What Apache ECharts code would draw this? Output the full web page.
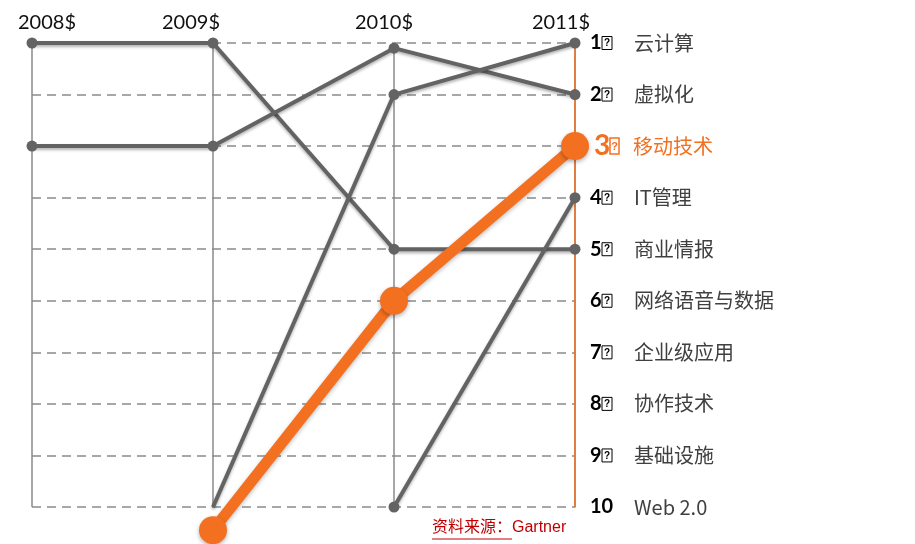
<!DOCTYPE html>
<html>
<head>
<meta charset="utf-8">
<script src="https://cdn.jsdelivr.net/npm/echarts@6/dist/echarts.min.js"></script>
<style>
    html, body { margin: 0; padding: 0; background: #fff; }
    #main { width: 915px; height: 544px; }
</style>
</head>
<body>
<div id="main"></div>
<script>
    // 年份（顶部）
    var years = ['2008$', '2009$', '2010$', '2011$'];
    // 2011 排名 1-10 对应的技术
    var rankNames = ['云计算', '虚拟化', '移动技术', 'IT管理', '商业情报', '网络语音与数据', '企业级应用', '协作技术', '基础设施', 'Web 2.0'];
    // 各技术历年排名（null = 未上榜）
    var cloudRank = [null, 10, 2, 1];
    var virtualRank = [3, 3, 1.1, 2];
    var mobileRank = [null, 10.45, 6, 3];
    var itMgmtRank = [null, null, 10, 4];
    var biRank = [1, 1, 5, 5];

    var gray = '#636363',
        orange = '#F37021';

    var chart = echarts.init(document.getElementById('main'));

    // 年份标签左右微调（px），与原图位置对齐
    var yearShift = [15, -22, -10, -14];

    function grayLine(name, data, hideFirst) {
        var seen = false;
        var items = data.map(function(v) {
            if (v == null) return null;
            if (hideFirst && !seen) {
                seen = true;
                return { value: v, symbol: 'none' };
            }
            seen = true;
            return v;
        });
        return {
            name: name,
            type: 'line',
            data: items,
            symbol: 'circle',
            symbolSize: 11,
            clip: false,
            z: 3,
            itemStyle: { color: gray },
            lineStyle: {
                color: gray, width: 4,
                shadowColor: 'rgba(0,0,0,0.3)', shadowBlur: 3, shadowOffsetY: 2
            }
        };
    }

    var option = {
        animation: false,
        grid: { left: 27, right: 340, top: 43, bottom: 37 },
        xAxis: {
            type: 'category',
            position: 'top',
            data: years,
            boundaryGap: false,
            axisLine: { show: false },
            axisTick: { show: false },
            axisLabel: {
                margin: 10,
                formatter: function(v, i) {
                    var s = yearShift[i];
                    if (s > 0) return '{sp|}{y|' + v + '}';
                    return '{y|' + v + '}{sp' + i + '|}';
                },
                rich: {
                    y: { color: '#111', fontSize: 20, fontFamily: 'Lato' },
                    sp: { width: 30 },
                    sp1: { width: 44 },
                    sp2: { width: 20 },
                    sp3: { width: 28 }
                }
            },
            splitLine: { show: true, lineStyle: { color: '#8a8a8a', width: 1.5 } }
        },
        yAxis: {
            type: 'value',
            position: 'right',
            inverse: true,
            min: 1,
            max: 10,
            interval: 1,
            axisLine: { show: true, lineStyle: { color: orange, width: 1.5 } },
            axisTick: { show: false },
            splitLine: { show: true, lineStyle: { color: '#8a8a8a', width: 1.5, type: [9, 6] } },
            axisLabel: {
                margin: 15,
                formatter: function(v) {
                    var name = rankNames[v - 1];
                    if (v === 3) {
                        return '{spO|}{numO|' + v + '}{boxO|?}{gapO|}{nameO|' + name + '}';
                    }
                    if (v === 10) {
                        return '{num10|' + v + '}{gap10|}{name|' + name + '}';
                    }
                    return '{num|' + v + '}{box|?}{gap|}{name|' + name + '}';
                },
                rich: {
                    num: { fontSize: 20, fontWeight: 'bold', color: '#000', fontFamily: 'Lato', width: 12 },
                    box: { fontSize: 10, fontWeight: 'bold', color: '#000', borderColor: '#000', borderWidth: 1, padding: [2, 1, 1, 1], width: 8, align: 'center' },
                    gap: { width: 22 },
                    name: { fontSize: 20, color: '#404040', fontFamily: 'Noto Sans CJK SC' },
                    spO: { width: 4 },
                    numO: { fontSize: 28, fontWeight: 'bold', color: orange, fontFamily: 'Lato', width: 16 },
                    boxO: { fontSize: 11, fontWeight: 'bold', color: orange, borderColor: orange, borderWidth: 1.5, padding: [3, 1, 2, 1], width: 7, align: 'center' },
                    gapO: { width: 14 },
                    nameO: { fontSize: 20, color: orange, fontFamily: 'Noto Sans CJK SC' },
                    num10: { fontSize: 20, fontWeight: 'bold', color: '#000', fontFamily: 'Lato', width: 24 },
                    gap10: { width: 20 }
                }
            }
        },
        series: [
            grayLine('商业情报', biRank),
            grayLine('虚拟化', virtualRank),
            grayLine('云计算', cloudRank, true),
            grayLine('IT管理', itMgmtRank),
            {
                name: '移动技术',
                type: 'line',
                data: mobileRank,
                symbol: 'circle',
                symbolSize: 28,
                clip: false,
                z: 5,
                itemStyle: {
                    color: orange,
                    shadowColor: 'rgba(0,0,0,0.3)', shadowBlur: 4, shadowOffsetY: 2
                },
                lineStyle: {
                    color: orange, width: 11,
                    shadowColor: 'rgba(0,0,0,0.25)', shadowBlur: 4, shadowOffsetY: 2
                }
            }
        ],
        graphic: [{
            type: 'text',
            left: 432,
            top: 520,
            style: {
                text: '资料来源：Gartner',
                fill: '#c00000',
                font: '16px "Liberation Sans", "Noto Sans CJK SC"'
            }
        }, {
            type: 'line',
            shape: { x1: 432, y1: 539, x2: 512, y2: 539 },
            style: { stroke: '#c00000', lineWidth: 1 }
        }]
    };

    chart.setOption(option);
</script>
</body>
</html>
